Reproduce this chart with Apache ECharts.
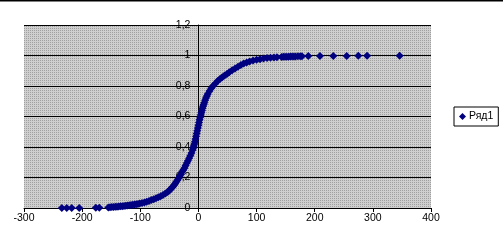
<!DOCTYPE html>
<html>
<head>
<meta charset="utf-8">
<script src="https://cdn.jsdelivr.net/npm/echarts@6/dist/echarts.min.js"></script>
<style>html,body{margin:0;padding:0;background:#fff;}#c{width:503px;height:250px;}</style>
</head>
<body>
<div id="c"></div>
<script>
const seriesName = 'Ряд1';
const xValues = [-235,-226.5,-218,-205,-176.5,-170.5,
-155,-152,-149,-146,-143,-140,-137,-134,-131,-128,-125,-122,-119,-116,-113,-110,-107,-104,-101,
-97,-93,-89,-85,-81,-77,-73,-69,-65,-61,-57,-53,
-50,-48,-46,-44,-42,-40,-38,-36,-34,-32,-30,-28,-26,-24,-22,-20,-18,-16,-14,
-12,-10,-9,-8,-7,-6,-5,-4,-3,-2,-1,0,1,2,3,4,5,6,7,8,9,10,11.5,13,14.5,
16,19,22,25,29,33,37,41,45,49,53,58,63,68,73,78,83,88,94,100,106,112,118,124,130,135,
143,146,149,152,155,158,161,164,167,171,175,178,
189,209,232,255,275,290,346];
const yValues = [0,0,0,0,0.002,0.002,
0.004,0.005,0.006,0.007,0.008,0.009,0.01,0.011,0.012,0.013,0.015,0.016,0.018,0.019,0.021,0.023,0.025,0.027,0.029,
0.032,0.036,0.041,0.046,0.052,0.058,0.064,0.070,0.077,0.085,0.095,0.105,
0.115,0.123,0.132,0.14,0.15,0.16,0.172,0.184,0.197,0.21,0.222,0.237,0.25,0.263,0.278,0.295,0.31,0.327,0.343,
0.36,0.38,0.393,0.406,0.42,0.435,0.452,0.47,0.488,0.506,0.524,0.542,0.56,0.578,0.595,0.61,0.625,0.64,0.654,0.667,0.679,0.69,0.706,0.721,0.735,
0.748,0.768,0.785,0.80,0.817,0.832,0.846,0.858,0.869,0.879,0.89,0.903,0.915,0.927,0.938,0.947,0.954,0.961,0.967,0.972,0.976,0.98,0.983,0.985,0.987,0.989,
0.99,0.991,0.991,0.992,0.992,0.993,0.993,0.994,0.994,0.995,0.995,0.995,
0.996,0.996,0.997,0.997,0.998,0.998,0.999];
const yTicks = ['0','0,2','0,4','0,6','0,8','1','1,2'];

const points = xValues.map((x, i) => [x, yValues[i]]);

const pc = document.createElement('canvas');
pc.width = 2; pc.height = 2;
const pctx = pc.getContext('2d');
pctx.fillStyle = '#cfcfcf'; pctx.fillRect(0,0,2,2);
pctx.fillStyle = '#a0a0a0'; pctx.fillRect(0,0,1,1);

const chart = echarts.init(document.getElementById('c'), null, {renderer: 'canvas'});
const font = '"Liberation Sans", Arial, sans-serif';
const gridLeft = 24, gridRight = 72, plotW = 503 - gridLeft - gridRight;
const xMin = -300, xMax = 400;
const yAxisOffset = -plotW * (0 - xMin) / (xMax - xMin);
chart.setOption({
  animation: false,
  backgroundColor: '#fff',
  graphic: [{type: 'rect', shape: {x: 0, y: 0, width: 503, height: 1.5}, style: {fill: '#000'}, z: 100}],
  grid: {left: gridLeft, right: gridRight, top: 25, bottom: 42, show: true,
    backgroundColor: {image: pc, repeat: 'repeat'}, borderWidth: 0},
  xAxis: {type: 'value', min: xMin, max: xMax, interval: 100,
    axisLine: {lineStyle: {color: '#000', width: 1}},
    axisTick: {show: true, length: 4, lineStyle: {color: '#000'}},
    axisLabel: {color: '#000', fontSize: 10.5, fontFamily: font, margin: 5},
    splitLine: {show: false}},
  yAxis: {type: 'value', min: 0, max: 1.2, interval: 0.2, offset: yAxisOffset,
    axisLine: {show: true, onZero: false, lineStyle: {color: '#000', width: 1}},
    axisTick: {show: true, length: 4, lineStyle: {color: '#000'}},
    axisLabel: {color: '#000', fontSize: 10.5, fontFamily: font, margin: 8,
      formatter: (v) => yTicks[Math.round(v / 0.2)]},
    splitLine: {show: true, lineStyle: {color: '#000', width: 1}}},
  legend: {show: true, left: 454, top: 107, orient: 'vertical',
    padding: [4, 5, 4, 5], borderColor: '#000', borderWidth: 1, backgroundColor: '#fff',
    itemWidth: 7, itemHeight: 7, itemGap: 4,
    textStyle: {color: '#000', fontSize: 10.5, fontFamily: font, padding: [0,0,0,-2]},
    data: [{name: seriesName, icon: 'diamond'}]},
  series: [{name: seriesName, type: 'scatter', symbol: 'diamond', symbolSize: 8,
    itemStyle: {color: '#000080', opacity: 1}, data: points, z: 5}]
});
</script>
</body>
</html>
